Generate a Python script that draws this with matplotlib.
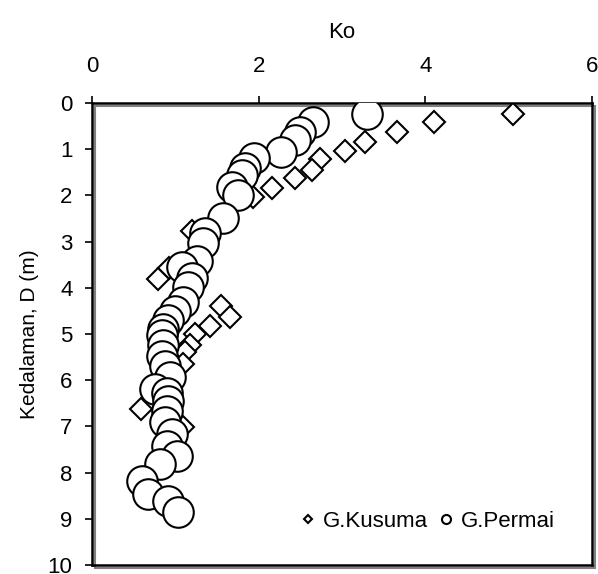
import matplotlib.pyplot as plt
import matplotlib.transforms as mtransforms
from matplotlib.patches import Rectangle

plt.rcParams['font.family'] = ['Liberation Sans', 'DejaVu Sans']

# G.Kusuma (diamonds)
kusuma_ko = [5.05, 4.10, 3.66, 3.28, 3.04, 2.74, 2.64, 2.43, 2.16, 1.93,
             1.20, 0.92, 0.79, 1.55, 1.66, 1.42, 1.24, 1.18, 1.12, 1.09,
             0.59, 1.09]
kusuma_d = [0.24, 0.41, 0.63, 0.84, 1.04, 1.21, 1.45, 1.62, 1.84, 2.03,
            2.78, 3.58, 3.82, 4.40, 4.64, 4.82, 5.01, 5.23, 5.40, 5.64,
            6.63, 7.01]

# G.Permai (circles)
permai_ko = [3.30, 2.65, 2.50, 2.44, 2.27, 1.94, 1.83, 1.80, 1.68, 1.75,
             1.57, 1.36, 1.33, 1.26, 1.08, 1.20, 1.15, 1.09, 1.00, 0.91,
             0.85, 0.84, 0.85, 0.84, 0.88, 0.94, 0.76, 0.90, 0.91, 0.90,
             0.88, 0.96, 0.90, 1.02, 0.82, 0.60, 0.67, 0.91, 1.03]
permai_d = [0.24, 0.41, 0.63, 0.80, 1.05, 1.20, 1.40, 1.56, 1.82, 2.00,
            2.48, 2.82, 3.02, 3.43, 3.55, 3.78, 3.98, 4.30, 4.50, 4.70,
            4.90, 5.02, 5.23, 5.48, 5.70, 5.94, 6.20, 6.27, 6.46, 6.67,
            6.90, 7.17, 7.43, 7.64, 7.82, 8.19, 8.47, 8.61, 8.86]

fig = plt.figure(figsize=(5.98, 5.74), dpi=100)
ax = fig.add_axes([92 / 598, 1 - 565 / 574, 500 / 598, 462 / 574])

ax.plot(kusuma_ko, kusuma_d, linestyle='none', marker='D', markersize=11,
        markerfacecolor='white', markeredgecolor='black', markeredgewidth=1.5,
        label='G.Kusuma', zorder=3)
ax.plot(permai_ko, permai_d, linestyle='none', marker='o', markersize=22,
        markerfacecolor='white', markeredgecolor='black', markeredgewidth=1.5,
        label='G.Permai', zorder=4)

ax.set_xlim(0, 6)
ax.set_ylim(10, 0)
ax.set_xticks([0, 2, 4, 6])
ax.set_yticks(range(0, 11))
ax.xaxis.tick_top()
ax.xaxis.set_label_position('top')
ax.tick_params(axis='both', direction='out', length=5, width=1.2, labelsize=16)
ax.tick_params(axis='x', pad=14)
ax.tick_params(axis='y', pad=9)
ax.set_xlabel('Ko', fontsize=16, labelpad=13)
ax.set_ylabel('Kedalaman, D (m)', fontsize=15, labelpad=6)
for s in ax.spines.values():
    s.set_linewidth(1.8)

# gray drop shadow on right and bottom, like the original
shadow_tr = mtransforms.offset_copy(ax.transAxes, fig=fig, x=2.5, y=-2.5, units='dots')
ax.add_patch(Rectangle((0, 0), 1, 1, transform=shadow_tr, facecolor='none',
                       edgecolor='#808080', linewidth=1.5, clip_on=False, zorder=0))

leg = ax.legend(loc='center left', bbox_to_anchor=(0.414, 0.095), ncol=2, frameon=False,
                fontsize=16, handletextpad=0.27, columnspacing=0.41,
                handlelength=0.8, borderpad=0, borderaxespad=0)
for h, ms in zip(leg.legend_handles, [4.2, 6.5]):
    h.set_markersize(ms)
    h.set_markeredgewidth(1.5)

fig.savefig('out.png', dpi=100)
